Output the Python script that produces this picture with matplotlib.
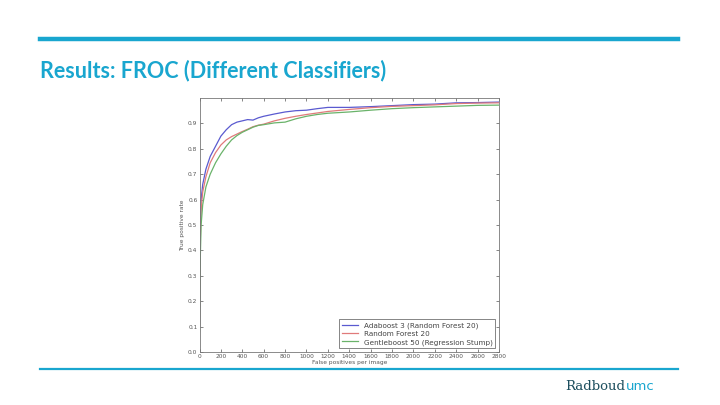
"""
Slide: FROC curves for different classifiers (recreated).
"""

import matplotlib
matplotlib.use('Agg')
import matplotlib.pyplot as plt
from matplotlib.lines import Line2D

# *** Data ***
FP_ADA = [0, 5, 15, 30, 60, 100, 150, 200, 250, 300, 350, 400, 450, 500, 550, 600,
          700, 800, 900, 1000, 1100, 1200, 1400, 1600, 1800, 2000, 2200, 2400, 2600, 2800]
TPR_ADA = [0.10, 0.45, 0.60, 0.66, 0.72, 0.77, 0.81, 0.85, 0.875, 0.895, 0.905, 0.91,
           0.915, 0.913, 0.922, 0.928, 0.937, 0.945, 0.95, 0.952, 0.958, 0.963, 0.963,
           0.966, 0.970, 0.974, 0.976, 0.981, 0.982, 0.984]

FP_RF = [0, 5, 15, 30, 60, 100, 150, 200, 250, 300, 350, 400, 450, 500, 550, 600,
         700, 800, 900, 1000, 1100, 1200, 1400, 1600, 1800, 2000, 2200, 2400, 2600, 2800]
TPR_RF = [0.10, 0.40, 0.56, 0.63, 0.69, 0.745, 0.785, 0.815, 0.835, 0.848, 0.858, 0.868,
          0.877, 0.887, 0.893, 0.897, 0.91, 0.92, 0.928, 0.935, 0.941, 0.947, 0.955,
          0.962, 0.967, 0.970, 0.973, 0.978, 0.980, 0.981]

FP_GB = [0, 5, 15, 30, 60, 100, 150, 200, 250, 300, 350, 400, 450, 500, 550, 600,
         700, 800, 900, 1000, 1100, 1200, 1400, 1600, 1800, 2000, 2200, 2400, 2600, 2800]
TPR_GB = [0.08, 0.33, 0.50, 0.58, 0.65, 0.70, 0.745, 0.78, 0.81, 0.835, 0.852, 0.865,
          0.875, 0.885, 0.892, 0.895, 0.902, 0.905, 0.918, 0.928, 0.935, 0.94, 0.945,
          0.952, 0.958, 0.962, 0.965, 0.968, 0.971, 0.972]

LABELS = ["Adaboost 3 (Random Forest 20)", "Random Forest 20",
          "Gentleboost 50 (Regression Stump)"]
X_TICKS = list(range(0, 2801, 200))
Y_TICKS = [0.0, 0.1, 0.2, 0.3, 0.4, 0.5, 0.6, 0.7, 0.8, 0.9]

TITLE = "Results: FROC (Different Classifiers)"

# *** Colours ***
C_CYAN = "#19a6cf"
C_DARK = "#1d4f5e"
C_ADA = "#5a5ad0"
C_RF = "#e07a7a"
C_GB = "#6ab36a"

fig = plt.figure(figsize=(7.2, 4.05), dpi=100)
fig.patch.set_facecolor("white")

# slide decorations
fig.add_artist(Line2D([40/720, 678/720], [1 - 39/405] * 2, color=C_CYAN, lw=3.2))
fig.add_artist(Line2D([40/720, 678/720], [1 - 369/405] * 2, color=C_CYAN, lw=1.6))
fig.text(40/720, 1 - 71/405, TITLE, color=C_CYAN, fontsize=15.5, family="Lato",
         fontweight="bold", va="center", ha="left")

# logo: "Radboud" + "umc", placed side by side
t1 = fig.text(565/720, 1 - 386/405, "Radboud", color=C_DARK, fontsize=9.5,
              family="DejaVu Serif", va="center", ha="left")
renderer = fig.canvas.get_renderer()
bb = t1.get_window_extent(renderer)
fig.text(bb.x1 / 720 + 1/720, 1 - 386/405, "umc", color=C_CYAN, fontsize=9.5,
         family="DejaVu Sans", va="center", ha="left")

# chart
ax = fig.add_axes([199.5/720, 1 - 352/405, 299.5/720, 254/405])
ax.plot(FP_ADA, TPR_ADA, color=C_ADA, lw=0.9, label=LABELS[0])
ax.plot(FP_RF, TPR_RF, color=C_RF, lw=0.9, label=LABELS[1])
ax.plot(FP_GB, TPR_GB, color=C_GB, lw=0.9, label=LABELS[2])

ax.set_xlim(0, 2800)
ax.set_ylim(0, 1.0)
ax.set_xticks(X_TICKS)
ax.set_yticks(Y_TICKS)
ax.set_yticklabels([f"{v:.1f}" for v in Y_TICKS])
ax.tick_params(direction="in", top=True, right=True, labelsize=4.2,
               length=2.5, width=0.5, colors="#555555", pad=1.5)
for spine in ax.spines.values():
    spine.set_color("#777777")
    spine.set_linewidth(0.6)
ax.set_xlabel("False positives per image", fontsize=4.2, color="#555555", labelpad=0.5)
ax.set_ylabel("True positive rate", fontsize=4.2, color="#555555", labelpad=2)

leg = ax.legend(loc="lower right", fontsize=5.2, frameon=True, fancybox=False,
                handlelength=2.2, borderpad=0.4, labelspacing=0.3,
                edgecolor="#555555", framealpha=1)
leg.get_frame().set_linewidth(0.5)
for t in leg.get_texts():
    t.set_color("#444444")

plt.savefig("out.png", dpi=100, facecolor=fig.get_facecolor())
plt.close()
